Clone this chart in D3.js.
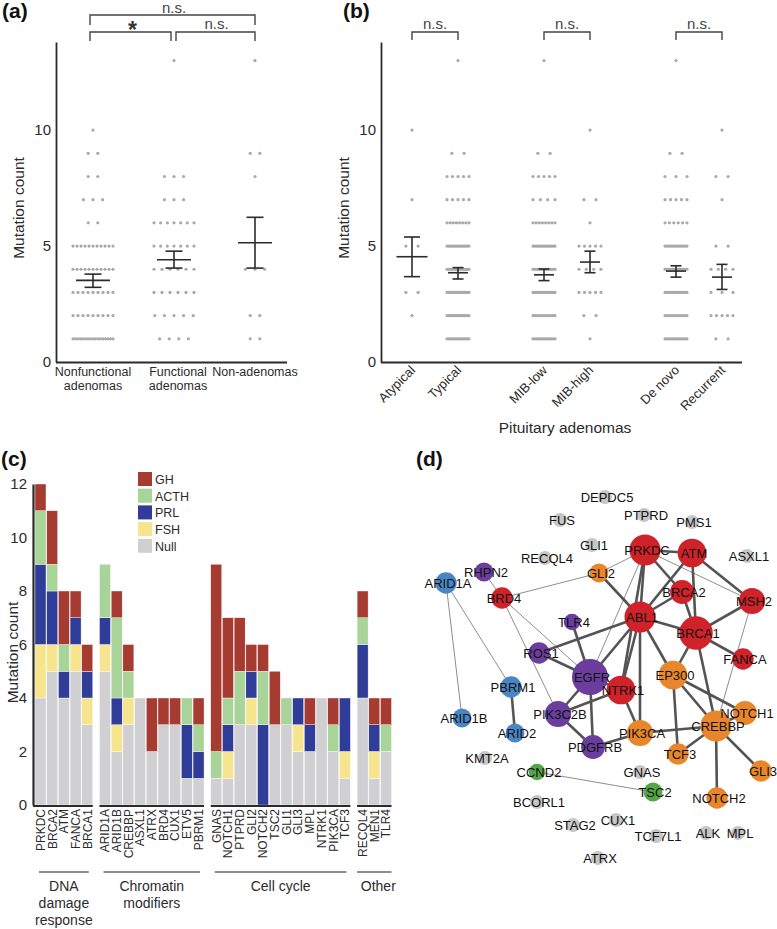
<!DOCTYPE html>
<html>
<head>
<meta charset="utf-8">
<script src="https://cdn.jsdelivr.net/npm/d3@7"></script>
<style>
  body { margin: 0; background: #fff; }
  svg { font-family: "Liberation Sans", Arial, sans-serif; }
</style>
</head>
<body>
<div id="chart"></div>
<script>
// ---------- data ----------
// mutation count values used by the dot columns in (a) and (b)
const countValues = [1, 2, 3, 4, 5, 6, 7, 8, 9, 10, 11, 12, 13];

// (a)
const aGroups = ["Nonfunctional adenomas", "Functional adenomas", "Non-adenomas"];
const aCounts = [
  [17, 9, 9, 11, 11, 2, 3, 2, 2, 1, 0, 0, 0],
  [4, 5, 6, 6, 7, 7, 3, 3, 0, 0, 0, 0, 1],
  [2, 2, 0, 3, 0, 0, 0, 1, 2, 0, 0, 0, 1]
];
const aMean = [3.52, 4.41, 5.14];
const aErrLow = [3.22, 4.05, 4.05];
const aErrHigh = [3.79, 4.78, 6.24];

// (b)
const bGroups = ["Atypical", "Typical", "MIB-low", "MIB-high", "De novo", "Recurrent"];
const bPairs = ["grade", "mib", "recurrence"];
const bCounts = [
  [0, 1, 2, 0, 2, 0, 1, 0, 0, 1, 0, 0, 0],
  [14, 16, 16, 18, 14, 8, 5, 5, 2, 0, 0, 0, 1],
  [14, 12, 14, 16, 14, 8, 4, 5, 2, 0, 0, 0, 1],
  [1, 2, 5, 4, 5, 1, 2, 0, 0, 1, 0, 0, 0],
  [14, 12, 14, 16, 14, 6, 5, 3, 2, 0, 0, 0, 1],
  [2, 5, 3, 4, 2, 0, 1, 2, 0, 1, 0, 0, 0]
];
const bMean = [4.54, 3.85, 3.76, 4.31, 3.92, 3.66];
const bErrLow = [3.68, 3.58, 3.51, 3.85, 3.66, 3.13];
const bErrHigh = [5.39, 4.07, 4.01, 4.78, 4.15, 4.21];

// (c)
const genes = ["PRKDC","BRCA2","ATM","FANCA","BRCA1",
  "ARID1A","ARID1B","CREBBP","ASXL1","ATRX","BRD4","CUX1","ETV5","PBRM1",
  "GNAS","NOTCH1","PTPRD","GLI2","NOTCH2","TSC2","GLI1","GLI3","MPL","NTRK1","PIK3CA","TCF3",
  "RECQL4","MEN1","TLR4"];
const geneGroup = [0,0,0,0,0, 1,1,1,1,1,1,1,1,1, 2,2,2,2,2,2,2,2,2,2,2,2, 3,3,3];
const groupNames = [["DNA","damage","response"], ["Chromatin","modifiers"], ["Cell cycle"], ["Other"]];
const subtypes = ["Null", "FSH", "PRL", "ACTH", "GH"];
const nullCounts = [4,5,4,5,3, 5,2,3,4,2,3,3,1,1, 1,1,3,3,0,3,3,2,2,4,2,1, 4,1,2];
const fshCounts  = [2,1,0,1,1, 1,1,1,0,0,0,0,0,0, 0,1,0,1,0,0,0,1,0,0,0,1, 0,1,0];
const prlCounts  = [3,2,1,1,1, 1,1,0,0,0,0,0,2,1, 0,1,0,1,3,0,0,1,1,0,0,2, 2,1,0];
const acthCounts = [2,1,1,0,0, 2,3,1,0,0,0,0,1,1, 1,1,2,0,2,0,1,0,0,0,1,0, 1,0,1];
const ghCounts   = [1,2,2,1,1, 0,1,1,0,2,1,1,0,1, 7,3,2,1,1,2,0,0,1,0,1,0, 1,1,1];

// (d) network: layout coordinates, class and weight of each node
const nodeNames = ["DEPDC5","FUS","PTPRD","PMS1","GLI1","RECQL4","PRKDC","ATM","ASXL1","GLI2",
  "RHPN2","ARID1A","BRD4","BRCA2","MSH2","ABL1","TLR4","BRCA1","ROS1","FANCA",
  "EGFR","EP300","NTRK1","PBRM1","PIK3C2B","NOTCH1","ARID1B","CREBBP","ARID2","PIK3CA",
  "PDGFRB","TCF3","KMT2A","GLI3","CCND2","GNAS","TSC2","NOTCH2","BCORL1","CUX1",
  "STAG2","ALK","MPL","TCF7L1","ATRX"];
const nodeX = [185,140,224,272,172,125,225,272,327,179, 64,26,82,262,332,220,152,276,119,323,
  170,253,201,91,138,325,42,296,95,220, 173,258,65,341,117,220,233,297,117,196, 153,286,318,236,178];
const nodeY = [27,50,45,52,75,88,80,83,86,103, 102,113,128,122,131,147,152,163,183,189,
  207,205,220,217,244,243,248,256,263,263, 277,284,288,301,302,302,322,328,332,350, 355,363,363,366,388];
const nodeClass = ["other","other","other","other","other","other","dna","dna","other","cell",
  "signal","chrom","dna","dna","dna","dna","signal","dna","signal","dna",
  "signal","cell","dna","chrom","signal","cell","chrom","cell","chrom","cell",
  "signal","cell","other","cell","cycle","other","cycle","cell","other","other",
  "other","other","other","other","other"];
const nodeWeight = [1,1,1,1,1,1,8,7,1,3, 3,4,4,5,6,8,2,9,4,4, 10,7,7,4,6,5,3,8,3,6, 5,4,1,4,2,1,3,4,1,1, 1,1,1,1,1];
const strongLinks = [
  ["PRKDC","ATM"],["PRKDC","ABL1"],["PRKDC","BRCA2"],["PRKDC","NTRK1"],
  ["ATM","ABL1"],["ATM","BRCA1"],["ATM","MSH2"],
  ["BRCA2","ABL1"],["BRCA2","BRCA1"],
  ["ABL1","BRCA1"],["ABL1","EGFR"],["ABL1","NTRK1"],["ABL1","EP300"],["ABL1","ROS1"],["ABL1","PIK3CA"],["GLI2","ABL1"],
  ["BRCA1","MSH2"],["BRCA1","FANCA"],["BRCA1","EP300"],["BRCA1","CREBBP"],
  ["EGFR","TLR4"],["EGFR","ROS1"],["EGFR","PIK3C2B"],["EGFR","PDGFRB"],["EGFR","NTRK1"],
  ["PIK3C2B","PDGFRB"],["PIK3C2B","NTRK1"],["NTRK1","PIK3CA"],
  ["PDGFRB","PIK3CA"],["PIK3CA","CREBBP"],
  ["EP300","CREBBP"],["EP300","NOTCH1"],["EP300","TCF3"],
  ["CREBBP","TCF3"],["CREBBP","NOTCH2"],["CREBBP","GLI3"],["CREBBP","NOTCH1"],
  ["PBRM1","ARID2"]
];
const weakLinks = [
  ["ARID1A","ARID1B"],["ARID1A","PBRM1"],["RHPN2","BRD4"],["BRD4","GLI2"],["GLI2","PRKDC"],
  ["BRD4","PIK3C2B"],["BRD4","EGFR"],["PRKDC","MSH2"],["MSH2","CREBBP"],["CCND2","TSC2"],
  ["PRKDC","EGFR"]
];

// ---------- styles ----------
const ink = "#2b2b2b";
const dotColor = "#a9a9a9";
const subtypeColor = { Null: "#d0d0d2", FSH: "#f6e48e", PRL: "#2f3d98", ACTH: "#a8d499", GH: "#a63b32" };
const nodeColor = { dna: "#cf2229", cell: "#e8862c", signal: "#6a3d9e", chrom: "#4a85c4", cycle: "#55a646", other: "#c6c6c6" };

const svg = d3.select("#chart").append("svg")
  .attr("width", 777)
  .attr("height", 929);

function panelLabel(txt, x, y) {
  svg.append("text").attr("x", x).attr("y", y)
    .attr("font-size", 21).attr("font-weight", "bold").attr("fill", "#111")
    .text(txt);
}

function dotColumn(g, counts, cx, y, maxGap, maxWidth) {
  counts.forEach((n, k) => {
    const gap = n > 1 ? Math.min(maxGap, maxWidth / (n - 1)) : 0;
    d3.range(n).forEach(i => {
      g.append("circle")
        .attr("cx", cx + (i - (n - 1) / 2) * gap)
        .attr("cy", y(countValues[k]))
        .attr("r", 1.6)
        .attr("fill", dotColor);
    });
  });
}

function errorBar(g, cx, y, mean, lo, hi, halfMean, halfCap) {
  const line = (x1, y1, x2, y2) => g.append("line")
    .attr("x1", x1).attr("y1", y1).attr("x2", x2).attr("y2", y2)
    .attr("stroke", ink).attr("stroke-width", 1.6);
  line(cx, y(lo), cx, y(hi));
  line(cx - halfCap, y(lo), cx + halfCap, y(lo));
  line(cx - halfCap, y(hi), cx + halfCap, y(hi));
  line(cx - halfMean, y(mean), cx + halfMean, y(mean));
}

function yAxisLeft(g, y, ticks, x, pad) {
  const ax = g.append("g")
    .attr("transform", `translate(${x},0)`)
    .call(d3.axisLeft(y).tickValues(ticks).tickSize(0).tickSizeOuter(0).tickPadding(pad));
  ax.select(".domain").attr("stroke", ink).attr("stroke-width", 1.8);
  ax.selectAll("text").attr("font-size", 15).attr("fill", ink).style("font-family", "inherit");
  return ax;
}

function bracket(g, x1, x2, yTop, yLeg) {
  g.append("path")
    .attr("d", `M${x1},${yLeg}V${yTop}H${x2}V${yLeg}`)
    .attr("fill", "none").attr("stroke", "#444").attr("stroke-width", 1.4);
}

function sigText(g, txt, x, y, size) {
  return g.append("text").attr("x", x).attr("y", y).attr("text-anchor", "middle")
    .attr("font-size", size).attr("fill", "#444").text(txt);
}

// ---------- (a) ----------
const gA = svg.append("g");
const yA = d3.scaleLinear().domain([0, 13.8]).range([362, 42]);
const xA = d3.scalePoint().domain(aGroups).range([93, 255]);

yAxisLeft(gA, yA, [0, 5, 10], 56, 5);
gA.append("line").attr("x1", 56).attr("x2", 287).attr("y1", 362.5).attr("y2", 362.5)
  .attr("stroke", ink).attr("stroke-width", 1.8);

aGroups.forEach((name, i) => {
  const cx = xA(name);
  dotColumn(gA, aCounts[i], cx, yA, 9.6, 40);
  errorBar(gA, cx, yA, aMean[i], aErrLow[i], aErrHigh[i], 17, 8.5);
  name.split(" ").forEach((w, j) => {
    gA.append("text").attr("x", cx + (i === 1 ? 4 : 0)).attr("y", 376 + j * 14)
      .attr("text-anchor", "middle").attr("font-size", 12.5).attr("fill", ink).text(w);
  });
});

gA.append("text")
  .attr("transform", `translate(24,${(yA(0) + yA(13.8)) / 2 + 6}) rotate(-90)`)
  .attr("text-anchor", "middle").attr("font-size", 15.5).attr("fill", ink)
  .text("Mutation count");

bracket(gA, xA(aGroups[0]) - 3, xA(aGroups[2]), 15, 25);
sigText(gA, "n.s.", (xA(aGroups[0]) + xA(aGroups[2])) / 2, 12.5, 15);
bracket(gA, xA(aGroups[0]) - 3, xA(aGroups[1]) - 3, 32, 41);
sigText(gA, "*", (xA(aGroups[0]) + xA(aGroups[1])) / 2 - 1, 38, 23).attr("font-weight", "bold").attr("fill", "#333");
bracket(gA, xA(aGroups[1]) + 2, xA(aGroups[2]), 32, 41);
sigText(gA, "n.s.", (xA(aGroups[1]) + xA(aGroups[2])) / 2 + 2, 29, 15);

panelLabel("(a)", 2, 18);

// ---------- (b) ----------
const gB = svg.append("g");
const yB = d3.scaleLinear().domain([0, 13.8]).range([362, 42]);
const pairX = d3.scalePoint().domain(bPairs).range([435, 699]);
const xB = i => pairX(bPairs[Math.floor(i / 2)]) + (i % 2 === 0 ? -23 : 23);

yAxisLeft(gB, yB, [0, 5, 10], 381, 5);
gB.append("line").attr("x1", 381).attr("x2", 742).attr("y1", 362.5).attr("y2", 362.5)
  .attr("stroke", ink).attr("stroke-width", 1.8);

bGroups.forEach((name, i) => {
  const cx = xB(i);
  dotColumn(gB, bCounts[i], cx, yB, 12.2, 22);
  const wide = i === 0;
  errorBar(gB, cx, yB, bMean[i], bErrLow[i], bErrHigh[i], wide ? 15.5 : 10, wide ? 8 : 5.5);
  gB.append("text")
    .attr("transform", `translate(${cx + 4},371) rotate(-45)`)
    .attr("text-anchor", "end").attr("font-size", 13).attr("fill", ink).text(name);
});

bPairs.forEach((p, k) => {
  const x1 = xB(2 * k), x2 = xB(2 * k + 1);
  bracket(gB, x1, x2, 32, 40);
  sigText(gB, "n.s.", (x1 + x2) / 2, 28.5, 15);
});

gB.append("text")
  .attr("transform", `translate(349,${(yB(0) + yB(13.8)) / 2 + 6}) rotate(-90)`)
  .attr("text-anchor", "middle").attr("font-size", 15.5).attr("fill", ink)
  .text("Mutation count");
gB.append("text").attr("x", 565).attr("y", 433).attr("text-anchor", "middle")
  .attr("font-size", 15.5).attr("fill", ink).text("Pituitary adenomas");

panelLabel("(b)", 343, 18);

// ---------- (c) ----------
const gC = svg.append("g");
const groupGap = 6;
const yC = d3.scaleLinear().domain([0, 12]).range([805, 484]);
const band = d3.scaleBand().domain(genes).range([35, 373.5]).paddingInner(0.06);
const xC = g => band(g) + geneGroup[genes.indexOf(g)] * groupGap;

const rows = genes.map((g, i) => ({
  gene: g, Null: nullCounts[i], FSH: fshCounts[i], PRL: prlCounts[i], ACTH: acthCounts[i], GH: ghCounts[i]
}));
const stacked = d3.stack().keys(subtypes)(rows);

gC.selectAll("g.layer").data(stacked).enter().append("g")
  .attr("class", "layer")
  .attr("fill", d => subtypeColor[d.key])
  .selectAll("rect").data(d => d).enter().append("rect")
  .attr("x", d => xC(d.data.gene))
  .attr("width", band.bandwidth())
  .attr("y", d => yC(d[1]))
  .attr("height", d => yC(d[0]) - yC(d[1]))
  .attr("stroke", "#fff").attr("stroke-width", 0.4);

yAxisLeft(gC, yC, [0, 2, 4, 6, 8, 10, 12], 33, 6);
gC.select(".domain").attr("stroke-width", 2.2);

groupNames.forEach((lines, k) => {
  const members = genes.filter((g, i) => geneGroup[i] === k);
  const x0 = xC(members[0]), x1 = xC(members[members.length - 1]) + band.bandwidth();
  gC.append("line").attr("x1", k === 0 ? 33 : x0).attr("x2", x1).attr("y1", 806).attr("y2", 806)
    .attr("stroke", ink).attr("stroke-width", 2.2);
  const inset = k === 3 ? 0 : 4;
  gC.append("line").attr("x1", x0 + inset).attr("x2", x1 - inset).attr("y1", 872).attr("y2", 872)
    .attr("stroke", "#8c8c8c").attr("stroke-width", 2);
  lines.forEach((w, j) => {
    gC.append("text").attr("x", (x0 + x1) / 2 + (k === 3 ? 4 : 0)).attr("y", 891 + j * 17)
      .attr("text-anchor", "middle").attr("font-size", 14).attr("fill", ink).text(w);
  });
});

genes.forEach(g => {
  gC.append("text")
    .attr("transform", `translate(${xC(g) + band.bandwidth() / 2},809) rotate(-90)`)
    .attr("text-anchor", "end").attr("dy", "0.36em")
    .attr("font-size", 12).attr("fill", ink).text(g);
});

gC.append("text")
  .attr("transform", `translate(18,${(yC(0) + yC(12)) / 2 + 8}) rotate(-90)`)
  .attr("text-anchor", "middle").attr("font-size", 15.5).attr("fill", ink)
  .text("Mutation count");

const legend = gC.append("g");
subtypes.slice().reverse().forEach((s, i) => {
  legend.append("rect").attr("x", 138).attr("y", 472 + i * 16.7).attr("width", 14).attr("height", 14)
    .attr("fill", subtypeColor[s]);
  legend.append("text").attr("x", 155).attr("y", 484 + i * 16.7)
    .attr("font-size", 12.5).attr("fill", ink).text(s);
});

panelLabel("(c)", 1, 466);

// ---------- (d) ----------
const gD = svg.append("g");
const xD = d3.scaleLinear().domain([0, 360]).range([420, 780]);
const yD = d3.scaleLinear().domain([0, 400]).range([470, 870]);
const rD = d3.scaleLinear().domain([1, 10]).range([7, 18]);
const nodes = nodeNames.map((n, i) => ({ name: n, x: nodeX[i], y: nodeY[i], cls: nodeClass[i], w: nodeWeight[i] }));
const byName = Object.fromEntries(nodes.map(n => [n.name, n]));

function drawLinks(list, color, width) {
  gD.selectAll(null).data(list).enter().append("line")
    .attr("x1", d => xD(byName[d[0]].x)).attr("y1", d => yD(byName[d[0]].y))
    .attr("x2", d => xD(byName[d[1]].x)).attr("y2", d => yD(byName[d[1]].y))
    .attr("stroke", color).attr("stroke-width", width);
}
drawLinks(weakLinks, "#8e8e8e", 1);
drawLinks(strongLinks, "#545454", 2.6);

gD.selectAll("circle").data(nodes).enter().append("circle")
  .attr("cx", d => xD(d.x)).attr("cy", d => yD(d.y))
  .attr("r", d => rD(d.w))
  .attr("fill", d => nodeColor[d.cls]);

gD.selectAll("text.node").data(nodes).enter().append("text")
  .attr("class", "node")
  .attr("x", d => xD(d.x) + 2).attr("y", d => yD(d.y))
  .attr("dy", "0.35em").attr("text-anchor", "middle")
  .attr("font-size", 13).attr("fill", "#111")
  .text(d => d.name);

panelLabel("(d)", 416, 466);
</script>
</body>
</html>
